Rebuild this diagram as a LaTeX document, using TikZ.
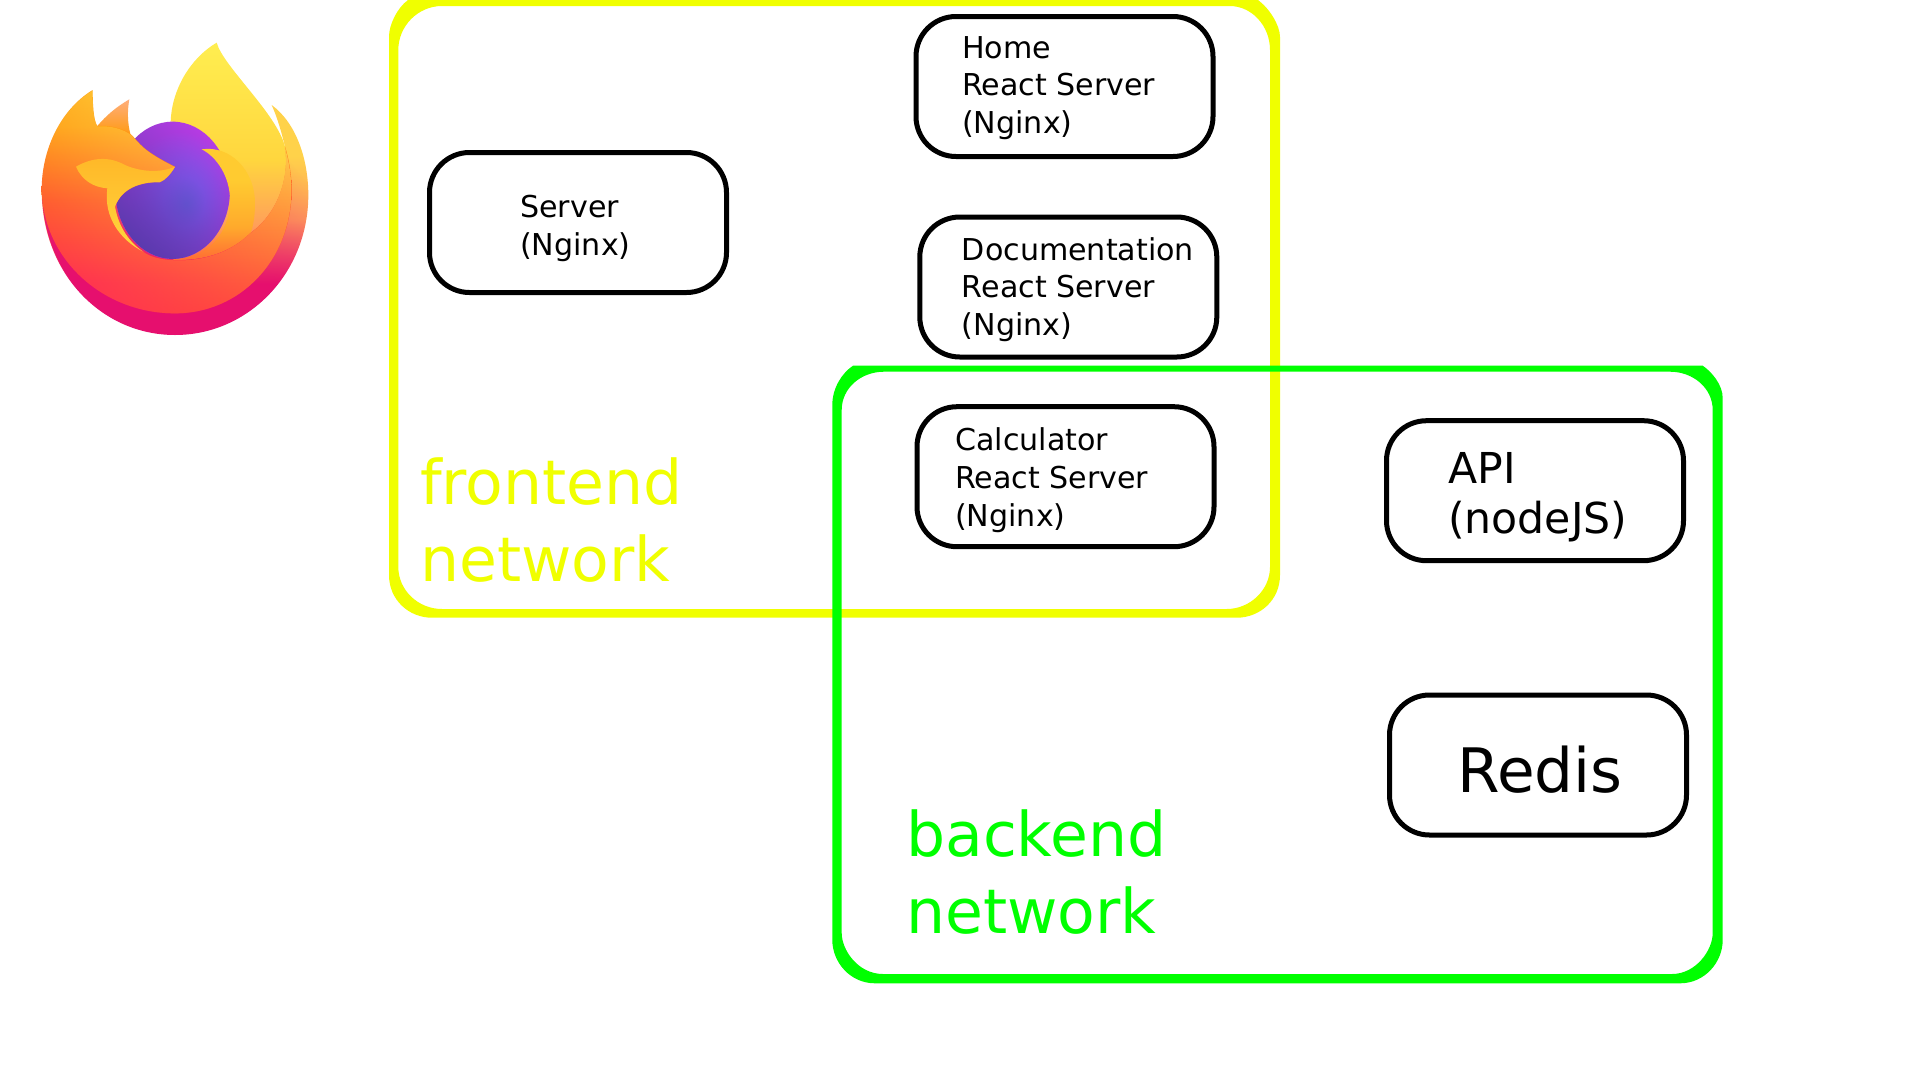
\documentclass[tikz,border=0pt]{standalone}
\usepackage{fontspec}
\setmainfont{DejaVu Sans}
\usetikzlibrary{fadings}
\definecolor{frontcol}{HTML}{F0FF00}
\definecolor{backcol}{HTML}{00FF00}
\definecolor{fa}{HTML}{E60F6E}\definecolor{fb}{HTML}{F8576A}\definecolor{fc}{HTML}{FF9A5A}\definecolor{fd}{HTML}{FFD24A}
\definecolor{ba}{HTML}{FF3350}\definecolor{bb}{HTML}{FF5A30}\definecolor{bc}{HTML}{FF9A12}
\definecolor{ca}{HTML}{FF6A3A}\definecolor{cb}{HTML}{FF9F5A}\definecolor{cc}{HTML}{FFD63E}\definecolor{cd}{HTML}{FFEE50}
\definecolor{ga}{HTML}{5A3AAE}\definecolor{gb}{HTML}{6C68EE}\definecolor{gc}{HTML}{8C5CFA}\definecolor{gd}{HTML}{B63CE4}
\definecolor{sa}{HTML}{FFCB30}\definecolor{sb}{HTML}{FFAA2C}\definecolor{sc}{HTML}{FF6A34}
\pgfdeclareverticalshading{shflameA}{100bp}{color(0bp)=(fa);color(25bp)=(fa);color(36bp)=(fa);color(50bp)=(fc);color(64bp)=(fd);color(75bp)=(fd);color(100bp)=(fd)}
\pgfdeclareverticalshading{shbody}{100bp}{color(0bp)=(ba);color(25bp)=(ba);color(32bp)=(ba);color(50bp)=(bb);color(67bp)=(bc);color(75bp)=(bc);color(100bp)=(bc)}
\pgfdeclareverticalshading{shflameC}{100bp}{color(0bp)=(ca);color(25bp)=(ca);color(33bp)=(cb);color(48bp)=(cc);color(75bp)=(cd);color(100bp)=(cd)}
\pgfdeclareverticalshading{shswirl}{100bp}{color(0bp)=(sc);color(25bp)=(sc);color(40bp)=(sb);color(60bp)=(sa);color(75bp)=(sa);color(100bp)=(sa)}
\pgfdeclareradialshading{shglobe}{\pgfpoint{6bp}{-5bp}}{color(0bp)=(gb);color(9bp)=(gc);color(24bp)=(gd);color(50bp)=(gd)}
\tikzfading[name=rightfade,left color=transparent!100,middle color=transparent!100,right color=transparent!0]
\tikzset{
  srvbox/.style={draw=black,line width=5pt,rounded corners=40pt,minimum width=297pt,minimum height=140pt,inner sep=0pt},
  srvtext/.style={anchor=base west,align=left,inner sep=0pt,text=black,font=\fontsize{30.1}{37.8}\selectfont},
  nettext/.style={anchor=base west,align=left,inner sep=0pt,font=\fontsize{61.6}{77}\selectfont},
  apitext/.style={anchor=base west,align=left,inner sep=0pt,text=black,font=\fontsize{42.6}{49.5}\selectfont},
  redistext/.style={anchor=base west,inner sep=0pt,text=black,font=\fontsize{61.3}{70}\selectfont}
}
\begin{document}
\begin{tikzpicture}[x=1pt,y=-1pt]
\useasboundingbox[fill=white] (0,0) rectangle (1920,1080);
% logo
\begin{scope}[x=.33333pt,y=-.33333pt]
\def\silA{(815,315) .. controls (890,370) and (925,480) .. (925,585) .. controls (925,820) and (745,1005) .. (525,1005) .. controls (305,1005) and (125,820) .. (125,570) -- (300,500) -- (855,440) .. controls (845,400) and (835,360) .. (815,315) -- cycle}
\shade[shading=shflameA] \silA;
\fill[fa,path fading=rightfade,fading angle=215] \silA;
\shade[shading=shflameC] (512,365) .. controls (515,270) and (570,175) .. (650,128) .. controls (670,200) and (830,340) .. (855,440) .. controls (870,530) and (835,640) .. (750,700) .. controls (700,750) and (620,780) .. (520,780) -- (518,365) -- cycle;
\shade[top color=fc!80!white,bottom color=bc] (292,378) .. controls (320,345) and (350,320) .. (388,298) .. controls (382,330) and (382,370) .. (392,405) -- cycle;
\shade[shading=shglobe] (518,571) ellipse [x radius=172,y radius=206];
\fill[ga,path fading=rightfade,fading angle=235] (518,571) ellipse [x radius=172,y radius=206];
\shade[shading=shswirl] (605,448) .. controls (690,435) and (765,510) .. (765,610) .. controls (765,640) and (762,670) .. (752,700) .. controls (700,750) and (620,785) .. (520,778) .. controls (620,778) and (690,700) .. (690,600) .. controls (690,530) and (650,470) .. (605,448) -- cycle;
\def\bodyp{(278,270) .. controls (180,330) and (125,450) .. (125,570) .. controls (130,780) and (310,940) .. (525,940) .. controls (720,940) and (875,780) .. (875,570) .. controls (875,520) and (865,470) .. (855,440) .. controls (870,530) and (835,640) .. (750,700) .. controls (700,750) and (620,785) .. (520,780) .. controls (480,778) and (450,770) .. (430,755) .. controls (390,730) and (355,680) .. (345,620) .. controls (365,565) and (420,545) .. (480,546) .. controls (495,540) and (510,525) .. (525,500) .. controls (425,450) and (420,430) .. (395,405) .. controls (370,385) and (330,375) .. (292,378) .. controls (280,360) and (278,310) .. (278,270) -- cycle}
\shade[shading=shbody] \bodyp;
\shade[top color=cd,bottom color=bb,path fading=rightfade,fading angle=25] \bodyp;
\shade[top color=cc!50!bc,bottom color=cc,shading angle=0] (228,500) .. controls (280,470) and (330,470) .. (375,495) .. controls (420,515) and (480,520) .. (525,500) .. controls (510,525) and (495,540) .. (480,546) .. controls (420,545) and (365,565) .. (345,620) .. controls (355,680) and (390,730) .. (430,755) .. controls (360,720) and (310,650) .. (322,565) .. controls (280,562) and (245,540) .. (228,500) -- cycle;
\end{scope}
% network frames
\fill[frontcol,even odd rule] (408,0) -- (1258,0) .. controls (1269,8) and (1280,25) .. (1280,37) -- (1280,575) .. controls (1280,600) and (1260,617.7) .. (1236.7,617.7) -- (432,617.7) .. controls (409,617.7) and (389,600) .. (389,575) -- (389,36.7) .. controls (389,25) and (397,8) .. (408,0) -- cycle
 (442,6) -- (1229.6,6) .. controls (1252,6) and (1270,26) .. (1270,50) -- (1270,567) .. controls (1270,590) and (1250,609) .. (1226.7,609) -- (442,609) .. controls (418,609) and (398.3,590) .. (398.3,567) -- (398.3,50) .. controls (398.3,26) and (418,6) .. (442,6) -- cycle;
\fill[backcol,even odd rule] (853,365.7) -- (1702.7,365.7) .. controls (1712,372) and (1722.7,385) .. (1722.7,398) -- (1722.7,940) .. controls (1722.7,962) and (1705,983.3) .. (1680,983.3) -- (875,983.3) .. controls (850,983.3) and (832.3,962) .. (832.3,940) -- (832.3,405) .. controls (832.3,388) and (842,373) .. (853,365.7) -- cycle
 (884,371.7) -- (1670,371.7) .. controls (1693,371.7) and (1712.7,388) .. (1712.7,410) -- (1712.7,933) .. controls (1712.7,950) and (1696,974) .. (1672,974) -- (883,974) .. controls (858,974) and (841.7,950) .. (841.7,933) -- (841.7,410) .. controls (841.7,388) and (861,371.7) .. (884,371.7) -- cycle;
% server boxes
\node[srvbox] (server) at (578,222.5) {};
\node[srvbox] (home) at (1064.5,86.5) {};
\node[srvbox] (docs) at (1068.3,287) {};
\node[srvbox] (calc) at (1065.5,476.7) {};
\node[srvbox] (api) at (1535,490.7) {};
\node[srvbox] (redis) at (1538,765) {};
\node[srvtext] (servertext) at (520,255) {Server\\(Nginx)};
\node[srvtext] (hometext) at (962,133.6) {Home\\React Server\\(Nginx)};
\node[srvtext] (docstext) at (961.7,335.7) {Documentation\\React Server\\(Nginx)};
\node[srvtext] (calctext) at (955,526) {Calculator\\React Server\\(Nginx)};
\node[apitext] (apitxt) at (1448,533) {API\\(nodeJS)};
\node[redistext] (redistxt) at (1457,792.6) {Redis};
\node[nettext,text=frontcol] (frontlabel) at (420,581) {frontend\\network};
\node[nettext,text=backcol] (backlabel) at (906,933.6) {backend\\network};
\end{tikzpicture}
\end{document}
